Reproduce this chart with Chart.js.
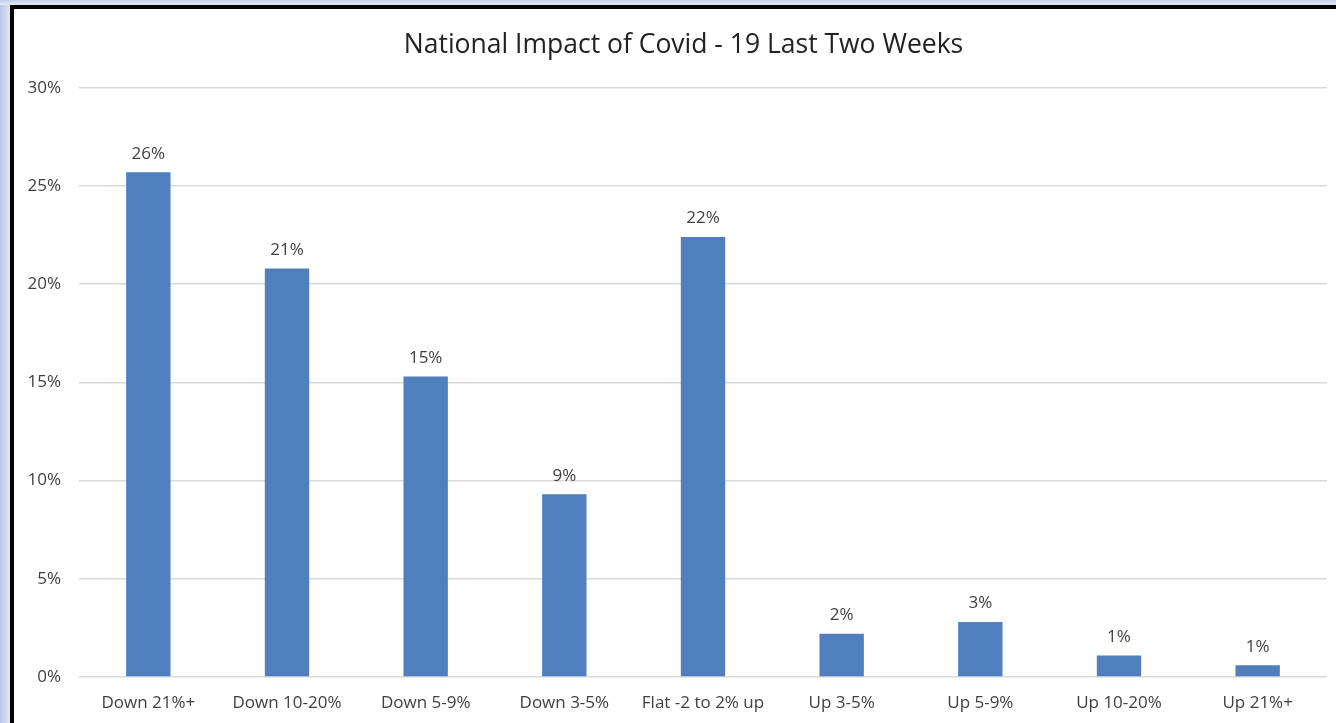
<!DOCTYPE html>
<html>
<head>
<meta charset="utf-8">
<title>National Impact of Covid - 19 Last Two Weeks</title>
<script src="https://cdn.jsdelivr.net/npm/chart.js@4"></script>
<style>
    html, body { margin: 0; padding: 0; }
    body {
        width: 1336px;
        height: 723px;
        overflow: hidden;
        background: linear-gradient(to right, #b9c6e6 0px, #dfe5f4 10px);
        position: relative;
    }
    .topstrip {
        position: absolute; left: 0; top: 0; width: 1336px; height: 5px;
        background: linear-gradient(to bottom, #c3cde9, #e4e9f6);
    }
    .card {
        position: absolute;
        left: 10px;
        top: 5px;
        width: 1322px;
        height: 714px;
        background: #fff;
        border-left: 4px solid #000;
        border-top: 4px solid #000;
    }
    canvas { display: block; }
</style>
</head>
<body>
<div class="topstrip"></div>
<div class="card">
    <canvas id="impactChart" width="1322" height="714"></canvas>
</div>
<script>
    // Share of responses per change bucket (percent)
    const categories = ['Down 21%+', 'Down 10-20%', 'Down 5-9%', 'Down 3-5%', 'Flat -2 to 2% up', 'Up 3-5%', 'Up 5-9%', 'Up 10-20%', 'Up 21%+'];
    const shares = [25.7, 20.8, 15.3, 9.3, 22.4, 2.2, 2.8, 1.1, 0.6];
    const yTicks = [0, 5, 10, 15, 20, 25, 30];

    const FONT = "'Open Sans', 'DejaVu Sans', sans-serif";
    const TEXT = '#404040';

    // Value labels above each bar
    const barLabels = {
        id: 'barLabels',
        afterDatasetsDraw(chart) {
            const ctx = chart.ctx;
            const meta = chart.getDatasetMeta(0);
            ctx.save();
            ctx.font = `17px ${FONT}`;
            ctx.fillStyle = TEXT;
            ctx.textAlign = 'center';
            ctx.textBaseline = 'bottom';
            meta.data.forEach((bar, i) => {
                ctx.fillText(Math.round(shares[i]) + '%', bar.x, bar.y - 10);
            });
            ctx.restore();
        }
    };

    // Centre the title a little right of the canvas middle
    const titleShift = {
        id: 'titleShift',
        afterLayout(chart) {
            if (chart.titleBlock) chart.titleBlock.left = 26;
        }
    };

    new Chart(document.getElementById('impactChart'), {
        type: 'bar',
        data: {
            labels: categories,
            datasets: [{
                data: shares,
                backgroundColor: '#4f7fbd',
                borderWidth: 0,
                categoryPercentage: 1,
                barPercentage: 0.32
            }]
        },
        options: {
            responsive: false,
            animation: false,
            layout: { padding: { left: 0, right: 9, top: 0, bottom: 0 } },
            plugins: {
                legend: { display: false },
                tooltip: { enabled: false },
                title: {
                    display: true,
                    text: 'National Impact of Covid - 19 Last Two Weeks',
                    color: '#222',
                    font: { family: FONT, size: 26.5, weight: 'normal' },
                    padding: { top: 21, bottom: 26 }
                }
            },
            scales: {
                x: {
                    grid: { display: false },
                    border: { display: false },
                    ticks: {
                        color: TEXT,
                        font: { family: FONT, size: 17 },
                        padding: 8,
                        maxRotation: 0
                    },
                    afterFit: s => { s.height = 46; }
                },
                y: {
                    min: 0,
                    max: 30,
                    afterBuildTicks: s => { s.ticks = yTicks.map(v => ({ value: v })); },
                    grid: { color: '#d9d9d9', lineWidth: 1.5, drawTicks: false },
                    border: { display: false },
                    ticks: {
                        color: TEXT,
                        font: { family: FONT, size: 17 },
                        padding: 18,
                        callback: v => v + '%'
                    },
                    afterFit: s => { s.width = 65; }
                }
            }
        },
        plugins: [barLabels, titleShift]
    });
</script>
</body>
</html>
